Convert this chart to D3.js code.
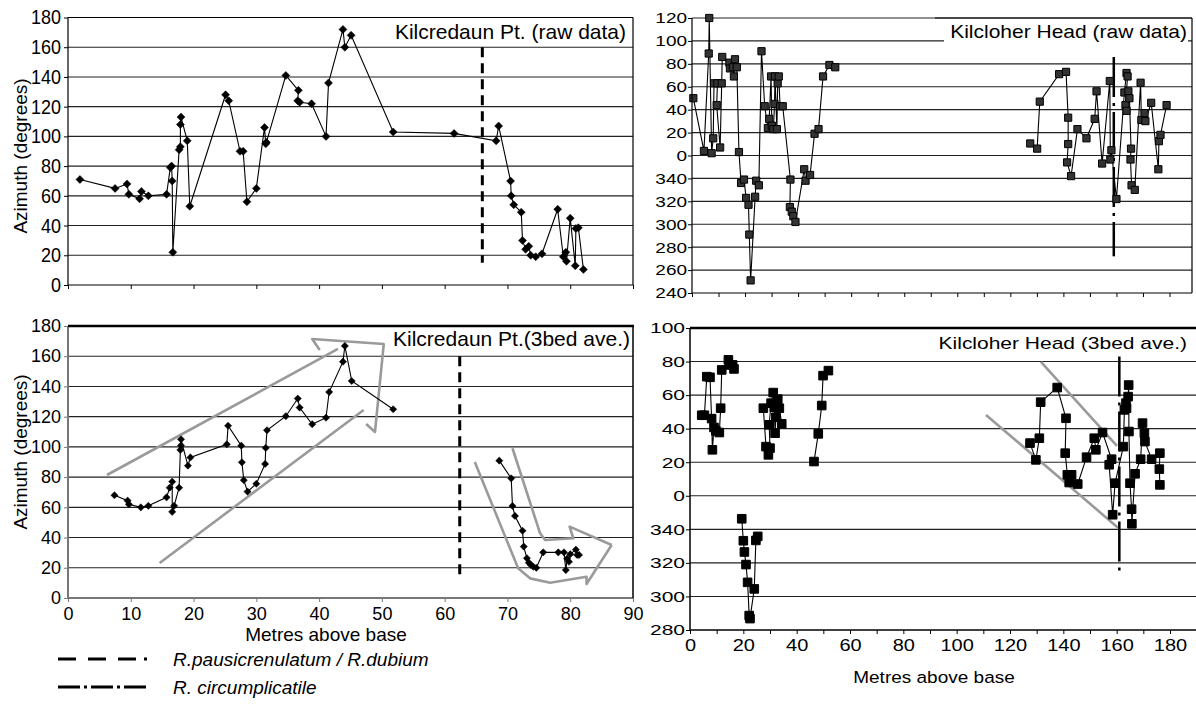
<!DOCTYPE html>
<html>
<head>
<meta charset="utf-8">
<script src="https://cdn.jsdelivr.net/npm/d3@7"></script>
<style>
  body { margin: 0; background: #fff; }
  text { font-family: "Liberation Sans", Arial, sans-serif; fill: #000; }
</style>
</head>
<body>
<script>
// Kilcredaun Pt. raw data
const kpRawMetres = [1.9, 7.5, 9.4, 9.7, 11.4, 11.7, 12.8, 15.7, 16.3, 16.5, 16.6, 16.7, 17.7, 17.9, 17.9, 18.0, 19.0, 19.4, 25.1, 25.6, 27.4, 27.9, 28.5, 30.0, 31.3, 31.5, 31.6, 34.7, 36.7, 36.6, 36.9, 38.8, 41.1, 41.5, 43.8, 44.1, 45.1, 51.8, 61.5, 68.2, 68.6, 70.5, 70.6, 71.0, 72.2, 72.4, 72.9, 73.4, 73.7, 74.5, 75.5, 78.0, 78.9, 79.3, 79.4, 80.0, 80.8, 80.9, 81.3, 82.1];
const kpRawAzimuth = [71, 65, 68, 61, 58, 63, 60, 61, 79, 80, 70, 22, 91, 93, 108, 113, 97, 53, 128, 124, 90, 90, 56, 65, 106, 95, 96, 141, 131, 124, 123, 122, 100, 136, 172, 160, 168, 103, 102, 97, 107, 70, 60, 54, 49, 30, 24, 26, 20, 19, 21, 51, 19, 22, 16, 45, 13, 38, 38.5, 10.5];

// Kilcloher Head raw data (azimuth 0-360, null = gap)
const khRawMetres = [0.5, 4.5, 6.3, 6.5, 7.4, 8.0, 8.3, 9.6, 9.3, 10.6, 11.2, 11.4, 14.1, 14.3, 15.4, 15.8, 16.2, 16.9, 17.7, 18.5, 19.6, 20.4, 21.3, 21.6, 22.1, 23.8, 24.2, 25.2, 26.2, 27.4, 28.6, 29.1, 29.8, 30.1, 30.7, 31.1, 31.3, 32.0, 32.3, 32.7, 33.2, 34.2, 37.1, 36.9, 37.6, 38.2, 39.0, 42.3, 42.8, 44.5, 46.2, 47.7, 49.4, 51.8, 54.0,
  90,
  127.5, 130.1, 131.1, 138.4, 141.0, 141.8, 141.8, 141.4, 142.9, 145.3, 148.7, 151.8, 152.5, 154.6, 157.5, 157.7, 158.1, 160.0, 163.0, 163.8, 164.2, 163.4, 163.8, 164.5, 164.9, 165.5, 165.3, 165.7, 166.9, 169.1, 169.4, 170.6, 170.9, 173.1, 175.8, 176.0, 176.6, 178.9];
const khRawAzimuth = [50, 4, 89, 120, 2, 15, 63, 63, 44, 7, 63, 86, 81, 76, 77, 69, 84, 77, 3, 336, 339, 323, 317, 291, 251, 324, 338, 334, 91, 43, 24, 32, 69, 26, 23, 45, 69, 23, 63, 69, 43, 43, 339, 315, 311, 307, 302, 348, 338, 343, 19, 23, 69, 79, 77,
  null,
  10.5, 6, 47, 71, 73, 33, 10, 354, 342, 23, 15, 32, 56, 353, 65, 356.5, 4.6, 322, 55, 72, 69, 44, 39, 56, 50, 6, 356.5, 334, 330, 63.5, 31, 37, 30, 46, 348, 12.5, 18, 44];

// Kilcredaun Pt. 3 bed average
const kpAveMetres = [7.4, 9.5, 9.7, 11.6, 12.8, 15.7, 16.2, 16.6, 16.6, 16.9, 17.7, 17.9, 18.0, 18.0, 19.1, 19.5, 25.3, 25.5, 27.6, 27.7, 28.0, 28.6, 30.0, 31.4, 31.5, 31.7, 34.7, 36.6, 36.9, 38.9, 41.1, 41.6, 43.8, 44.1, 45.2, 51.8,
  60,
  68.7, 70.6, 70.8, 71.2, 72.4, 72.6, 73.1, 73.4, 73.7, 74.1, 74.6, 75.7, 78.1, 79.0, 79.3, 79.5, 79.8, 80.0, 80.9, 81.1, 81.4];
const kpAveAzimuth = [68, 64.4, 62, 60, 61, 66.6, 73, 77, 57, 61, 73, 98, 101, 105, 87.6, 93, 101.7, 114, 100.8, 89.8, 78, 70.4, 75.6, 88.7, 99.3, 111, 120.3, 132, 126, 115, 119.3, 136.3, 156.4, 166.8, 143.6, 124.9,
  null,
  90.9, 79.2, 60.9, 54.3, 44.5, 34, 26.3, 23.4, 22, 20.7, 20, 30.2, 30.2, 30.2, 18.5, 26, 24, 29, 32, 28.5, 28.5];

// Kilcloher Head 3 bed average
const khAveMetres = [4.4, 5.4, 6.3, 7.5, 8.1, 8.4, 9.0, 9.7, 11.0, 11.5, 11.9, 14.4, 15.0, 16.0, 16.5,
  18,
  19.4, 20.0, 20.4, 21.0, 21.6, 22.2, 22.5, 24.1, 24.7, 25.4,
  26.5,
  27.5, 28.5, 29.4, 30.0, 29.7, 30.4, 31.2, 31.6, 31.9, 32.2, 32.9, 33.5, 34.4,
  40,
  46.5, 48.1, 49.4, 49.9, 51.9,
  90,
  127.5, 129.7, 131.0, 131.5, 137.7, 141.0, 140.7, 141.5, 143.1, 142.2, 145.4, 148.7, 151.6, 152.2, 154.7, 158.1, 157.2, 158.5, 159.4, 162.5, 162.9, 163.7, 163.5, 164.3, 164.5, 164.6, 165.0, 165.6, 165.7, 166.9, 169.0, 169.7, 170.4, 170.6, 173.1, 176.2, 176.0, 176.2];
const khAveAzimuth = [48, 48, 71, 70.6, 46, 27.4, 40.7, 38.7, 37.7, 52.2, 75, 81, 78, 78, 75.6,
  null,
  346.3, 333.2, 326.5, 319, 308.4, 288.6, 286.8, 304.5, 333.4, 335.8,
  null,
  52.2, 29.3, 24.4, 28.4, 42.3, 55.2, 61.5, 52.8, 37.3, 46.8, 57.6, 52.2, 42.9,
  null,
  20.4, 36.9, 53.8, 71.6, 74.6,
  null,
  31.4, 21.4, 34.3, 55.8, 64.5, 46.2, 25.4, 12.5, 12.5, 7.9, 7, 23, 34.3, 27.4, 37.7, 21.8, 18.5, 348.7, 7.5, 29.3, 51.2, 52.2, 55.2, 59.1, 66, 38.3, 7.5, 352, 343.3, 13.1, 21.8, 43.3, 37.3, 32.3, 21.8, 25.4, 15.9, 6.5];

// zone boundaries (metres) and their azimuth extent
const pausiBoundary = { raw: [66, 160, 15], ave: [62.4, 160, 15] };
const circumBoundary = { raw: [159, 86, 272], ave: [161, 83, 315] };

// trend arrows drawn on the 3 bed average panels: [metres, azimuth]
const upArrowTop = [[6.2, 81.4], [43.0, 164.8]];
const upArrowBottom = [[14.6, 23.2], [47.1, 124.4]];
const upArrowHead = [[40.1, 164.1], [38.9, 171.4], [50.3, 168.1], [48.9, 109.9], [47.5, 115.2]];
const downArrowOuter = [[64.8, 90.0], [71.7, 19.7], [73.6, 13], [76.8, 10.1], [82.6, 14.1], [82.6, 9.3], [86.6, 35.1]];
const downArrowInner = [[70.8, 99.1], [75.2, 42.8], [76.0, 38.4], [80.5, 39.5], [79.9, 47.2], [86.6, 35.1]];
const khTrendUpper = [[131.6, 79.8], [160.1, 29.8]];
const khTrendLower = [[111.0, 48.2], [160.5, 341]];

const legendLabels = ["R.pausicrenulatum / R.dubium", "R. circumplicatile"];

// azimuths past north are plotted below zero
const wrap = a => (a == null ? null : (a > 180 ? a - 360 : a));
const azLabel = d => (d < 0 ? d + 360 : d);

const svg = d3.select("body").append("svg")
  .attr("width", 1196)
  .attr("height", 707);

function panel(cfg) {
  const x = d3.scaleLinear().domain([0, cfg.xMax]).range([cfg.left, cfg.xAt]);
  const y = d3.scaleLinear().domain(cfg.yDomain).range([cfg.bottom, cfg.top]);
  const g = svg.append("g");
  const yTicks = d3.range(cfg.yDomain[0], cfg.yDomain[1] + 1, 20);

  // horizontal grid
  g.append("g").selectAll("line")
    .data(yTicks.slice(1))
    .enter().append("line")
    .attr("x1", cfg.left).attr("x2", cfg.right)
    .attr("y1", d => y(d)).attr("y2", d => y(d))
    .style("stroke", cfg.gridColor || "#222")
    .style("stroke-width", 1.1);

  return { x, y, g, yTicks };
}

function axes(p, cfg) {
  const ya = p.g.append("g")
    .attr("transform", `translate(${cfg.left},0)`)
    .call(d3.axisLeft(p.y).tickValues(p.yTicks).tickSize(4).tickPadding(cfg.yPad).tickFormat(cfg.yFormat || (d => d)));
  ya.selectAll("text").style("font-size", cfg.yFont + "px");
  if (cfg.yScaleText) ya.selectAll("text").attr("transform", `scale(1,${cfg.yScaleText})`);
  ya.select(".domain").remove();
  ya.selectAll(".tick line").style("stroke", cfg.axisColor);

  const xa = p.g.append("g")
    .attr("transform", `translate(0,${cfg.bottom})`)
    .call(d3.axisBottom(p.x).tickValues(d3.range(0, cfg.xTickMax + 1, 10)).tickSize(4).tickPadding(cfg.xPad)
      .tickFormat(d => (cfg.xLabels && d % cfg.xLabels === 0 ? d : "")));
  xa.select(".domain").remove();
  xa.selectAll(".tick line").style("stroke", cfg.axisColor);
  xa.selectAll("text").style("font-size", cfg.xFont + "px");
  if (cfg.xScaleText) xa.selectAll("text").attr("transform", `scale(1,${cfg.xScaleText})`);

  // left and bottom axis lines
  p.g.append("line").attr("x1", cfg.left).attr("x2", cfg.left).attr("y1", cfg.top).attr("y2", cfg.bottom)
    .style("stroke", cfg.axisColor).style("stroke-width", cfg.axisWidth);
  p.g.append("line").attr("x1", cfg.left).attr("x2", cfg.right).attr("y1", cfg.bottom).attr("y2", cfg.bottom)
    .style("stroke", cfg.axisColor).style("stroke-width", cfg.axisWidth);
}

function series(p, metres, az, marker, size, fill) {
  const pts = metres.map((m, i) => ({ m: m, a: wrap(az[i]) }));
  const line = d3.line().defined(d => d.a != null).x(d => p.x(d.m)).y(d => p.y(d.a));
  p.g.append("path").datum(pts).attr("d", line)
    .style("fill", "none").style("stroke", "#000").style("stroke-width", 1.1);
  const shape = marker === "diamond"
    ? `M0,${-size}L${size},0L0,${size}L${-size},0Z`
    : `M${-size},${-size}H${size}V${size}H${-size}Z`;
  p.g.append("g").selectAll("path")
    .data(pts.filter(d => d.a != null))
    .enter().append("path")
    .attr("d", shape)
    .attr("transform", d => `translate(${p.x(d.m)},${p.y(d.a)})`)
    .style("fill", fill)
    .style("stroke", "#000")
    .style("stroke-width", marker === "diamond" ? 0.5 : 1);
}

function title(p, txt, cfg) {
  p.g.append("rect").attr("x", cfg.bx).attr("y", cfg.by).attr("width", cfg.bw).attr("height", cfg.bh)
    .style("fill", "#fff");
  p.g.append("text").attr("x", 0).attr("y", 0)
    .attr("transform", `translate(${cfg.tx},${cfg.ty}) scale(1,${cfg.sy || 1})`)
    .attr("text-anchor", "end")
    .style("font-size", cfg.size + "px")
    .text(txt);
}

function vline(p, spec, dash, width) {
  p.g.append("line")
    .attr("x1", p.x(spec[0])).attr("x2", p.x(spec[0]))
    .attr("y1", p.y(wrap(spec[1]))).attr("y2", p.y(wrap(spec[2])))
    .style("stroke", "#000").style("stroke-width", width).style("stroke-dasharray", dash);
}

function grey(p, pts) {
  p.g.append("path").datum(pts)
    .attr("d", d3.line().x(d => p.x(d[0])).y(d => p.y(wrap(d[1]))))
    .style("fill", "none").style("stroke", "#9a9a9a").style("stroke-width", 2.6)
    .style("stroke-linejoin", "round");
}

// ---- top left: Kilcredaun raw
const tl = { left: 68, right: 633, top: 17.5, bottom: 285, xMax: 90, xAt: 633, yDomain: [0, 180] };
const pTL = panel(tl);
title(pTL, "Kilcredaun Pt. (raw data)", { bx: 385, by: 19, bw: 246, bh: 26, tx: 626, ty: 39, size: 21 });
vline(pTL, pausiBoundary.raw, "10,6", 3);
series(pTL, kpRawMetres, kpRawAzimuth, "diamond", 4, "#000");
axes(pTL, Object.assign({ yPad: 3, yFont: 18, yScaleText: 1.12, xPad: 3, xFont: 18, xTickMax: 90, axisColor: "#000", axisWidth: 1.2 }, tl));
pTL.g.append("line").attr("x1", 68).attr("x2", 633).attr("y1", 17.5).attr("y2", 17.5).style("stroke", "#000").style("stroke-width", 1.2);
pTL.g.append("line").attr("x1", 633).attr("x2", 633).attr("y1", 17.5).attr("y2", 285).style("stroke", "#000").style("stroke-width", 1.2);

// ---- top right: Kilcloher raw
const tr = { left: 692, right: 1192, top: 18, bottom: 293, xMax: 180, xAt: 1169.5, yDomain: [-120, 120] };
const pTR = panel(tr);
title(pTR, "Kilcloher Head (raw data)", { bx: 944, by: 19, bw: 244, bh: 25, tx: 1187, ty: 38, size: 21, sy: 0.87 });
vline(pTR, circumBoundary.raw, "40,6,3,6", 2.5);
series(pTR, khRawMetres, khRawAzimuth, "square", 3.6, "#333");
axes(pTR, Object.assign({ yPad: 1, yFont: 19, yScaleText: 0.8, yFormat: azLabel, xPad: 3, xFont: 18, xTickMax: 180, axisColor: "#000", axisWidth: 1.2 }, tr));
pTR.g.append("line").attr("x1", 935).attr("x2", 1192).attr("y1", 18).attr("y2", 18).style("stroke", "#000").style("stroke-width", 1.2);
pTR.g.append("line").attr("x1", 1192).attr("x2", 1192).attr("y1", 18).attr("y2", 293).style("stroke", "#000").style("stroke-width", 1.2);

// ---- bottom left: Kilcredaun 3 bed average
const bl = { left: 68, right: 633, top: 326, bottom: 598, xMax: 90, xAt: 633, yDomain: [0, 180] };
const pBL = panel(bl);
grey(pBL, upArrowTop);
grey(pBL, upArrowBottom);
grey(pBL, upArrowHead);
grey(pBL, downArrowOuter);
grey(pBL, downArrowInner);
title(pBL, "Kilcredaun Pt.(3bed ave.)", { bx: 386, by: 328, bw: 245, bh: 25, tx: 630, ty: 346, size: 21 });
vline(pBL, pausiBoundary.ave, "10,6", 3);
series(pBL, kpAveMetres, kpAveAzimuth, "diamond", 3.6, "#000");
axes(pBL, Object.assign({ yPad: 3, yFont: 18, xPad: 5, xFont: 18, xLabels: 10, xTickMax: 90, axisColor: "#777", axisWidth: 2 }, bl));
pBL.g.append("line").attr("x1", 68).attr("x2", 634).attr("y1", 326).attr("y2", 326).style("stroke", "#000").style("stroke-width", 2.5);
pBL.g.append("line").attr("x1", 633).attr("x2", 633).attr("y1", 326).attr("y2", 598).style("stroke", "#000").style("stroke-width", 1.5);

// ---- bottom right: Kilcloher 3 bed average
const br = { left: 690, right: 1196, top: 328, bottom: 630, xMax: 180, xAt: 1170, yDomain: [-80, 100] };
const pBR = panel(br);
title(pBR, "Kilcloher Head (3bed ave.)", { bx: 930, by: 331, bw: 262, bh: 24, tx: 1187, ty: 349, size: 21, sy: 0.8 });
grey(pBR, khTrendUpper);
grey(pBR, khTrendLower);
vline(pBR, circumBoundary.ave, "40,6,3,6", 2.5);
series(pBR, khAveMetres, khAveAzimuth, "square", 4.3, "#000");
axes(pBR, Object.assign({ yPad: 1, yFont: 21, yScaleText: 0.72, yFormat: azLabel, xPad: 8, xFont: 20, xScaleText: 0.82, xLabels: 20, xTickMax: 190, axisColor: "#000", axisWidth: 1.5 }, br));
pBR.g.append("line").attr("x1", 690).attr("x2", 1196).attr("y1", 328).attr("y2", 328).style("stroke", "#000").style("stroke-width", 2.5);

// ---- axis titles
[[20, 156], [20, 452]].forEach(c => {
  svg.append("text")
    .attr("transform", `translate(${c[0]},${c[1]}) rotate(-90)`)
    .attr("text-anchor", "middle").attr("dy", "0.35em")
    .style("font-size", "19px")
    .text("Azimuth (degrees)");
});
svg.append("text").attr("x", 326).attr("y", 641).attr("text-anchor", "middle")
  .style("font-size", "19px").text("Metres above base");
svg.append("text").attr("transform", "translate(934,683) scale(1,0.85)").attr("text-anchor", "middle")
  .style("font-size", "19px").text("Metres above base");

// ---- legend
const legendDash = ["18,12,18,12,18,8,3,20", "22,4,3,4"];
const legendY = [659, 687];
legendLabels.forEach((lab, i) => {
  svg.append("line").attr("x1", 58).attr("x2", 148).attr("y1", legendY[i]).attr("y2", legendY[i])
    .style("stroke", "#000").style("stroke-width", 3).style("stroke-dasharray", legendDash[i]);
  svg.append("text").attr("x", 173).attr("y", legendY[i]).attr("dy", "0.35em")
    .style("font-size", "19px").style("font-style", "italic")
    .text(lab);
});
</script>
</body>
</html>
